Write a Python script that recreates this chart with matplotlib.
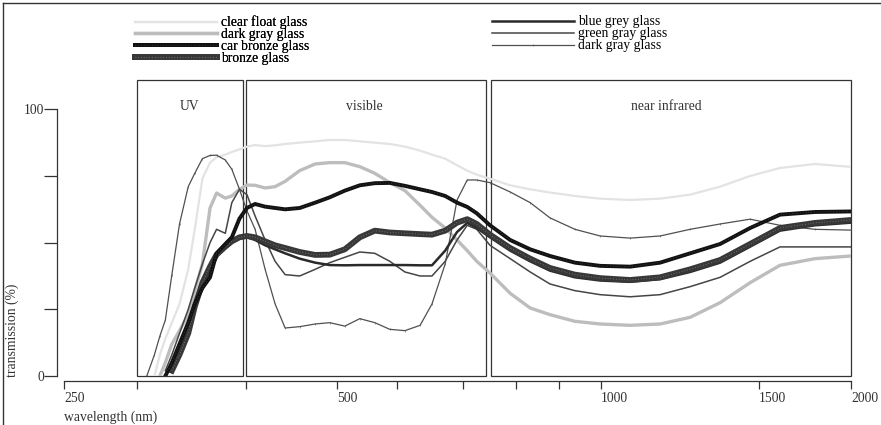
import numpy as np
import matplotlib
matplotlib.use("Agg")
import matplotlib.pyplot as plt
from matplotlib.patches import Rectangle
from matplotlib.lines import Line2D

plt.rcParams['font.family'] = ['Liberation Serif', 'DejaVu Serif']
plt.rcParams['font.size'] = 9.8

nan = np.nan

# wavelength grid (nm)
wl = [309, 316, 321, 326, 332, 339, 347, 353, 360, 367, 373, 381, 387, 394, 401,
      410, 421, 432, 443, 459, 476, 492, 513, 538, 563, 588, 612, 635, 653, 673,
      691, 708, 726, 751, 789, 833, 879, 938, 998, 1092, 1187, 1282, 1377, 1472,
      1614, 1804, 2000]

clear_float = [nan, 0, 8, 14, 20, 27, 40, 55, 74, 80, 82, 83, 84, 85, 86, 86.6,
               86.2, 86.5, 87, 87.5, 88, 88.5, 88.5, 88, 87.5, 87, 86, 84.5, 83,
               81.5, 79, 77, 75.5, 74, 71.5, 70, 68.8, 67.5, 66.5, 66, 66.5, 68,
               71, 75, 78, 79.5, 78.4]
dark_gray = [nan, nan, 0, 5, 12, 17, 23, 32, 42, 63, 68.6, 66.7, 67.5, 70, 71.6,
             71.5, 70.5, 71, 73, 77, 79.5, 80, 80, 78.5, 76, 72.5, 69.5, 64, 59.5,
             55.5, 51, 47, 43, 38.6, 31, 25.5, 23, 20.5, 19.5, 19, 19.5, 22, 27.5,
             35, 41.5, 44, 45]
car_bronze = [nan, nan, nan, 0, 5, 12, 20, 27, 33, 37, 46, 49.5, 52, 59, 63, 64.5,
              63.5, 63, 62.5, 63, 65, 67, 69.5, 71.5, 72.3, 72.4, 71.3, 70, 69,
              67.5, 65, 63.4, 61, 56.5, 51, 47.5, 45, 42.5, 41.3, 41, 42.5, 46,
              49.5, 55.5, 60.5, 61.5, 61.7]
bronze = [nan, nan, nan, nan, 2, 8, 16, 26, 35, 41, 45.5, 48.5, 50.5, 52, 52.5,
          52, 50.5, 49, 48, 46.5, 45.4, 45.5, 47.5, 52, 54.5, 53.8, 53.5, 53.2,
          53, 54.5, 57.5, 58.8, 57, 53, 48, 44, 40.5, 38, 36.7, 36, 37, 40, 43.5,
          49.5, 55.5, 57.4, 58.5]
blue_grey = [nan, nan, nan, nan, 3, 10, 18, 27, 35, 41, 45, 48, 50, 51.5, 52, 51,
             49, 47.5, 46, 44, 42.5, 41.6, 41.5, 41.6, 41.6, 41.6, 41.6, 41.5,
             41.5, 47, 54, 57.4, 55.5, 52, 47, 43, 39.5, 37, 35.8, 35.3, 36.3, 39,
             42.5, 48.5, 54.5, 56.5, 57.5]
green_gray = [nan, nan, nan, 2, 8, 16, 25, 33, 42, 50, 55, 53.5, 65, 70, 68, 60,
              51, 43, 38, 37.5, 40, 42.5, 44.5, 46.5, 46, 43, 39, 37.5, 37.5, 43,
              51, 56.5, 55, 49, 44, 39, 34.5, 32, 30.5, 29.7, 30.5, 33.5, 37, 43,
              48.4, 48.4, 48.4]
dark_gray_thin = [0, 8, 15, 21, 38, 57, 71, 76, 81.5, 82.7, 82.8, 81, 77.5, 70,
                  62, 55, 40, 27, 18, 18.5, 19.5, 20, 18.7, 21.5, 20, 17.5, 17,
                  19, 27, 42, 66, 73.5, 73.5, 72.5, 69, 65, 59.3, 55, 52.5, 51.7,
                  52.5, 55, 57, 58.8, 56.5, 55, 54.7]

regions = ['UV', 'visible', 'near infrared']
region_start = [300, 400, 753]
region_end = [397, 743, 2000]
region_label_x = [348, 545, 1206]

# hand drawn axis: tick wavelengths and their relative positions
tick_nm = [250, 300, 400, 500, 600, 700, 800, 900, 1000, 1500, 2000]
tick_pos = [64, 137, 246, 337, 397, 463, 516, 559, 601, 759, 851]
tick_lab = ['250', '', '', '500', '', '', '', '', '1000', '1500', '2000']


def fwd(x):
    return np.interp(x, tick_nm, tick_pos)


def inv(p):
    return np.interp(p, tick_pos, tick_nm)


fig = plt.figure(figsize=(8.81, 4.25), dpi=100)
ax = fig.add_axes([64/881, (425-376)/425, (851-64)/881, (376-77.3)/425])
ax.set_xscale('function', functions=(fwd, inv))
ax.set_xlim(250, 2000)
ax.set_ylim(0, 112)

for s, e, lab, lx in zip(region_start, region_end, regions, region_label_x):
    ax.add_patch(Rectangle((s, 0), e - s, 111, fill=False, ec='#333333', lw=0.9, clip_on=False))
    ax.text(lx, 101, lab, ha='center', va='center', color='#333333')

h_cf, = ax.plot(wl, clear_float, color='#e3e3e3', lw=1.6)
h_dg, = ax.plot(wl, dark_gray, color='#bdbdbd', lw=2.4)
h_gg, = ax.plot(wl, green_gray, color='#454545', lw=1.1)
h_dk, = ax.plot(wl, dark_gray_thin, color='#505050', lw=0.9, marker='|', ms=1.8, mew=0.4)
h_bg, = ax.plot(wl, blue_grey, color='#2a2a2a', lw=1.8)
h_br, = ax.plot(wl, bronze, color='#383838', lw=4.2)
h_br2, = ax.plot(wl, bronze, color='#9a9a9a', lw=0.5, dashes=(1, 3))
h_cb, = ax.plot(wl, car_bronze, color='#111111', lw=2.8)
h_cb2, = ax.plot(wl, car_bronze, color='#777777', lw=0.4, dashes=(1, 4))

for sp in ['top', 'right']:
    ax.spines[sp].set_visible(False)
ax.spines['left'].set_position(('outward', 5))
ax.spines['left'].set_bounds(0, 100)
ax.spines['bottom'].set_position(('outward', 3.5))
ax.spines['bottom'].set_bounds(250, 2000)
for sp in ['left', 'bottom']:
    ax.spines[sp].set_color('#333333')
    ax.spines[sp].set_linewidth(0.9)

ax.set_yticks([0, 25, 50, 75, 100])
ax.set_yticklabels(['0', '', '', '', '100'])
ax.tick_params(axis='y', length=9.5, width=0.9, color='#333333', pad=0, labelcolor='#333333')
ax.set_xticks(tick_nm)
ax.set_xticklabels(tick_lab, ha='left')
ax.xaxis.set_minor_locator(plt.NullLocator())
ax.tick_params(axis='x', length=6, width=0.9, color='#333333', pad=2, labelcolor='#333333')

fig.text(64/881, 1 - 417/425, 'wavelength (nm)', ha='left', va='center', color='#333333')
fig.text(12/881, 1 - 377/425, 'transmission (%)', rotation=90, ha='center', va='bottom', color='#333333')

leg1 = fig.legend([h_cf, h_dg, (h_cb, h_cb2), (h_br, h_br2)],
                  ['clear float glass', 'dark gray glass', 'car bronze glass', 'bronze glass'],
                  loc='upper left', bbox_to_anchor=(135/881, 1 - 15.5/425), frameon=False,
                  handlelength=6.0, handletextpad=0.3, labelspacing=-0.08,
                  borderpad=0, borderaxespad=0)
fig.legend([h_bg, h_gg, h_dk],
           ['blue grey glass', 'green gray glass', 'dark gray glass'],
           loc='upper left', bbox_to_anchor=(492/881, 1 - 15.5/425), frameon=False,
           handlelength=6.0, handletextpad=0.3, labelspacing=-0.08,
           borderpad=0, borderaxespad=0)
fig.add_artist(leg1)

# figure border (left and top)
fig.add_artist(Line2D([3/881, 3/881], [0, 1 - 3/425], color='#333333', lw=1.0, transform=fig.transFigure))
fig.add_artist(Line2D([3/881, 1], [1 - 3/425, 1 - 3/425], color='#333333', lw=1.0, transform=fig.transFigure))

fig.savefig('out.png', dpi=100)
